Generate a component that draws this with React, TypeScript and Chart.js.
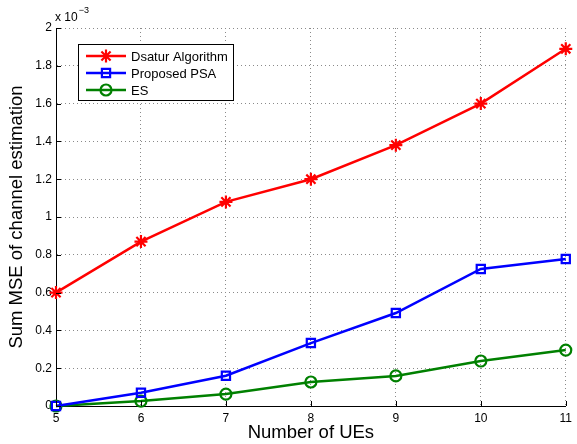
import React, { useEffect, useRef } from "react";
import { Chart, registerables } from "chart.js";

Chart.register(...registerables);

const ues = [5, 6, 7, 8, 9, 10, 11];
const dsatur = [0.6, 0.87, 1.08, 1.2, 1.38, 1.6, 1.89];
const psa = [0.0, 0.07, 0.16, 0.333, 0.492, 0.725, 0.778];
const es = [0.0, 0.026, 0.063, 0.127, 0.159, 0.238, 0.296];

const seriesNames = ["Dsatur Algorithm", "Proposed PSA", "ES"];
const seriesColors = ["#ff0000", "#0000ff", "#008000"];
const seriesMarkers = ["star", "rect", "circle"];
const yTicks = [0, 0.2, 0.4, 0.6, 0.8, 1, 1.2, 1.4, 1.6, 1.8, 2];
const exponentText = ["x 10", "\u22123"];
const xTitle = "Number of UEs";
const yTitle = "Sum MSE of channel estimation";

const FONT = "'Liberation Sans', Arial, Helvetica, sans-serif";

function drawMarker(ctx: CanvasRenderingContext2D, style: string, r: number, x: number, y: number) {
  ctx.beginPath();
  if (style === "circle") {
    ctx.arc(x, y, r, 0, Math.PI * 2);
  } else if (style === "rect") {
    const s = r / Math.SQRT2;
    ctx.rect(x - s, y - s, 2 * s, 2 * s);
  } else {
    for (let k = 0; k < 4; k++) {
      const a = (k * Math.PI) / 4;
      ctx.moveTo(x - Math.cos(a) * r, y - Math.sin(a) * r);
      ctx.lineTo(x + Math.cos(a) * r, y + Math.sin(a) * r);
    }
  }
  ctx.stroke();
}

const overlayPlugin = {
  id: "overlay",
  afterDraw(chart: any) {
    const ctx = chart.ctx;
    const xs = chart.scales.x;
    const ys = chart.scales.y;
    const area = chart.chartArea;
    ctx.save();
    ctx.setLineDash([]);
    // inward tick marks
    ctx.strokeStyle = "#000";
    ctx.lineWidth = 1;
    ctx.beginPath();
    ues.forEach((v) => {
      const px = Math.round(xs.getPixelForValue(v)) + 0.5;
      ctx.moveTo(px, area.bottom);
      ctx.lineTo(px, area.bottom - 5);
    });
    yTicks.forEach((v) => {
      const py = Math.round(ys.getPixelForValue(v)) + 0.5;
      ctx.moveTo(area.left, py);
      ctx.lineTo(area.left + 5, py);
    });
    ctx.stroke();

    // exponent label
    ctx.fillStyle = "#000";
    ctx.textBaseline = "alphabetic";
    ctx.textAlign = "left";
    ctx.font = `12px ${FONT}`;
    ctx.fillText(exponentText[0], area.left - 1, 21);
    const w = ctx.measureText(exponentText[0]).width;
    ctx.font = `9px ${FONT}`;
    ctx.fillText(exponentText[1], area.left - 1 + w + 1, 13);

    // legend box
    const bx = 78.5, by = 44.5, bw = 155, bh = 56;
    ctx.fillStyle = "#fff";
    ctx.fillRect(bx, by, bw, bh);
    ctx.strokeStyle = "#000";
    ctx.lineWidth = 1;
    ctx.strokeRect(bx, by, bw, bh);
    const rows = [56, 73, 90];
    chart.data.datasets.forEach((ds: any, i: number) => {
      const y = rows[i];
      ctx.strokeStyle = ds.borderColor;
      ctx.lineWidth = ds.borderWidth;
      ctx.beginPath();
      ctx.moveTo(86, y);
      ctx.lineTo(126, y);
      ctx.stroke();
      ctx.lineWidth = ds.pointBorderWidth;
      drawMarker(ctx, ds.pointStyle, ds.pointRadius, 106, y);
      ctx.fillStyle = "#000";
      ctx.font = `13px ${FONT}`;
      ctx.textBaseline = "middle";
      ctx.textAlign = "left";
      ctx.fillText(ds.label, 131, y + 1);
    });
    ctx.restore();
  },
};

export default function App() {
  const ref = useRef<HTMLCanvasElement>(null);
  useEffect(() => {
    if (!ref.current) return;
    const allSeries = [dsatur, psa, es];
    const chart = new Chart(ref.current, {
      type: "line",
      data: {
        datasets: allSeries.map((vals, i) => ({
          label: seriesNames[i],
          data: ues.map((x, j) => ({ x, y: vals[j] })),
          borderColor: seriesColors[i],
          backgroundColor: "rgba(0,0,0,0)",
          borderWidth: 2.5,
          pointStyle: seriesMarkers[i] as any,
          pointRadius: i === 0 ? 6.5 : i === 1 ? 5.8 : 5.5,
          pointBorderWidth: 2.2,
          pointBorderColor: seriesColors[i],
          pointBackgroundColor: "rgba(0,0,0,0)",
          tension: 0,
          clip: false as any,
        })),
      },
      options: {
        animation: false,
        responsive: false,
        maintainAspectRatio: false,
        layout: { padding: { left: 0, right: 7, top: 28, bottom: 0 } },
        plugins: { legend: { display: false }, tooltip: { enabled: false } },
        scales: {
          x: {
            type: "linear",
            min: 5,
            max: 11,
            afterBuildTicks: (s: any) => {
              s.ticks = ues.map((v) => ({ value: v }));
            },
            afterFit: (s: any) => {
              s.height = 38;
            },
            grid: { color: "#8a8a8a", lineWidth: 1, drawTicks: false },
            border: { display: true, color: "#000", width: 1, dash: [1, 3] },
            ticks: {
              color: "#000",
              font: { family: FONT, size: 12 },
              padding: 5,
              maxRotation: 0,
            },
            title: {
              display: true,
              text: xTitle,
              color: "#000",
              font: { family: FONT, size: 18.5 },
              padding: { top: 0, bottom: 0 },
            },
          },
          y: {
            type: "linear",
            min: 0,
            max: 2,
            afterBuildTicks: (s: any) => {
              s.ticks = yTicks.map((v) => ({ value: v }));
            },
            afterFit: (s: any) => {
              s.width = 56;
            },
            grid: { color: "#8a8a8a", lineWidth: 1, drawTicks: false },
            border: { display: true, color: "#000", width: 1, dash: [1, 3] },
            ticks: {
              color: "#000",
              font: { family: FONT, size: 12 },
              padding: 4,
              callback: (v: any) => String(Number(Number(v).toFixed(1))),
            },
            title: {
              display: true,
              text: yTitle,
              color: "#000",
              font: { family: FONT, size: 18.5 },
              padding: { top: 6, bottom: 0 },
            },
          },
        },
      },
      plugins: [overlayPlugin],
    });
    return () => chart.destroy();
  }, []);
  return (
    <div style={{ position: "fixed", left: 0, top: 0, width: 577, height: 444, background: "#fff" }}>
      <canvas ref={ref} width={577} height={444} style={{ width: 577, height: 444 }} />
    </div>
  );
}
